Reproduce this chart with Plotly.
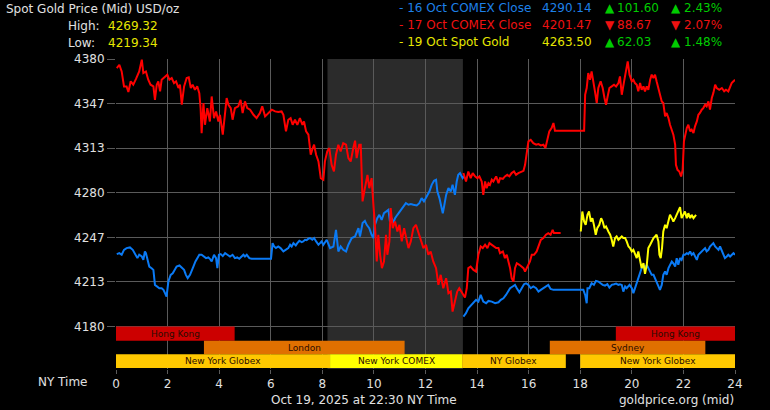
import plotly.graph_objects as go

# ---------------- data ----------------
red1_h = [0.03,0.13,0.22,0.31,0.41,0.48,0.57,0.67,0.78,0.90,1.00,1.06,1.16,1.25,1.34,1.45,1.51,1.58,1.64,1.71,1.77,1.90,1.99,2.07,2.16,2.25,2.33,2.42,2.48,2.55,2.64,2.74,2.82,2.90,2.97,3.06,3.15,3.23,3.28,3.32,3.39,3.45,3.54,3.64,3.71,3.80,3.88,3.97,4.03,4.14,4.23,4.29,4.36,4.45,4.52,4.61,4.74,4.83,4.91,5.00,5.09,5.20,5.33,5.45,5.58,5.67,5.78,5.91,6.04,6.17,6.29,6.42,6.49,6.59,6.68,6.77,6.85,6.94,7.03,7.13,7.23,7.29,7.37,7.46,7.55,7.63,7.68,7.76,7.85,7.94,8.04,
          8.10,8.19,8.27,8.36,8.45,8.53,8.62,8.71,8.81,8.92,9.01,9.10,9.20,9.27,9.33,9.43,9.49,9.56,9.65,9.75,9.82,9.91,9.98,10.04,10.11,10.17,10.24,10.31,10.39,10.47,10.52,10.60,10.65,10.73,10.82,10.91,10.99,11.08,11.17,11.24,11.34,11.43,11.53,11.63,11.72,11.81,11.92,12.02,12.11,12.20,12.30,12.41,12.50,12.59,12.69,12.80,12.89,12.98,13.05,13.14,13.23,13.31,
          13.47,13.53,13.60,13.66,13.75,13.86,13.96,14.05,14.14,14.22,14.31,14.40,14.48,14.57,14.63,14.74,14.83,14.89,15.00,15.08,15.15,15.21,15.28,15.34,15.41,15.47,15.54,15.64,15.73,15.80,15.86,15.92,15.99,16.05,16.12,16.21,16.31,16.42,16.47,16.57,16.67,16.76,16.85,16.93,16.98,17.06,17.24]
red1_v = [4373.2,4375.7,4370.7,4359.5,4359.5,4355.3,4363.3,4360.8,4365.3,4370.7,4379.5,4369.5,4370.7,4364.5,4360.8,4359.5,4349.5,4360.8,4363.3,4355.8,4364.5,4367.0,4368.3,4364.5,4365.8,4362.0,4363.3,4358.3,4360.8,4345.8,4359.5,4365.8,4366.3,4358.3,4360.8,4357.0,4359.5,4354.5,4343.3,4324.6,4347.1,4330.8,4343.3,4333.3,4352.0,4335.8,4340.8,4333.3,4338.3,4323.4,4343.3,4350.8,4345.8,4343.3,4334.6,4343.3,4344.6,4349.5,4339.6,4348.3,4343.3,4342.1,4338.3,4335.8,4339.6,4344.6,4337.1,4339.6,4342.1,4340.8,4340.3,4340.8,4338.3,4325.9,4334.6,4335.8,4330.8,4334.6,4330.8,4335.8,4330.8,4333.3,4325.9,4323.4,4308.4,4313.4,4315.9,4308.4,4303.4,4290.9,4289.7,
          4303.4,4310.9,4313.4,4300.9,4295.9,4308.4,4315.9,4310.9,4317.1,4315.9,4305.9,4303.4,4313.4,4318.9,4305.9,4315.9,4315.9,4273.5,4283.4,4293.4,4283.4,4290.9,4271.0,4256.0,4228.6,4248.6,4233.6,4223.6,4228.6,4248.6,4233.6,4243.6,4268.5,4253.5,4258.5,4251.0,4256.0,4243.6,4253.5,4247.3,4238.6,4243.6,4253.5,4256.0,4251.0,4246.1,4238.6,4241.1,4233.6,4236.1,4228.6,4223.6,4211.1,4218.6,4208.6,4216.1,4204.9,4206.1,4191.1,4198.6,4206.1,4208.6,
          4203.6,4201.6,4208.6,4223.6,4224.8,4222.3,4221.1,4233.6,4239.8,4238.6,4241.1,4238.6,4242.3,4241.1,4239.8,4238.6,4238.6,4234.8,4236.1,4231.1,4233.6,4228.6,4223.6,4216.1,4213.6,4223.6,4227.3,4226.1,4224.8,4223.6,4221.1,4223.6,4226.1,4228.6,4233.6,4233.6,4236.1,4241.1,4244.8,4246.1,4248.6,4249.8,4248.6,4252.3,4249.8,4249.8,4249.8]

red2_h = [13.47,13.49,13.57,13.66,13.75,13.83,13.92,14.01,14.09,14.18,14.24,14.31,14.37,14.44,14.50,14.57,14.63,14.74,14.83,14.89,15.00,15.08,15.17,15.25,15.34,15.43,15.51,15.60,15.69,15.80,15.86,15.92,15.99,16.08,16.18,16.29,16.38,16.47,16.57,16.65,16.73,16.80,16.89,16.96,17.02,18.15,
          18.19,18.25,18.31,18.38,18.44,18.51,18.57,18.64,18.70,18.79,18.87,18.94,19.00,19.05,19.13,19.22,19.31,19.39,19.48,19.54,19.61,19.70,19.78,19.84,19.91,20.00,20.06,20.12,20.19,20.25,20.32,20.38,20.45,20.51,20.58,20.64,20.71,20.77,20.84,20.90,20.96,21.03,21.09,21.16,21.22,21.29,21.35,21.42,21.48,21.55,21.61,21.68,21.71,21.77,21.84,21.91,21.97,22.02,22.08,22.13,22.19,22.26,22.32,22.39,22.45,22.52,22.58,22.64,22.71,22.77,22.84,22.90,22.97,23.03,23.10,23.16,23.23,23.29,23.39,23.49,23.58,23.65,23.74,23.81,23.87,23.94,24.00]
red2_v = [4294.7,4293.4,4288.4,4295.9,4290.9,4294.7,4292.2,4290.9,4292.2,4288.4,4278.4,4288.4,4283.4,4287.2,4285.9,4289.7,4288.4,4292.2,4287.2,4290.9,4290.4,4292.2,4293.4,4292.2,4294.7,4295.9,4293.4,4294.7,4295.4,4296.4,4300.9,4310.9,4318.4,4319.6,4317.1,4315.9,4316.4,4315.4,4315.9,4313.4,4319.6,4325.9,4328.4,4332.1,4326.4,4326.4,
          4353.3,4358.3,4369.5,4364.5,4370.7,4360.8,4355.8,4347.1,4358.3,4363.3,4358.3,4350.8,4345.8,4350.8,4358.3,4359.5,4360.8,4359.5,4362.0,4367.0,4353.3,4363.3,4372.0,4378.2,4368.3,4363.3,4364.5,4362.0,4360.8,4355.8,4362.0,4357.0,4359.5,4355.8,4359.5,4357.0,4364.5,4368.3,4365.8,4368.3,4363.3,4358.3,4353.3,4348.3,4347.1,4337.1,4339.6,4335.8,4330.8,4325.9,4323.4,4315.9,4300.9,4297.1,4295.9,4292.2,4297.1,4318.4,4323.4,4328.4,4330.8,4325.9,4327.1,4324.6,4329.6,4333.3,4338.3,4339.6,4342.1,4343.3,4345.8,4344.6,4348.3,4342.1,4350.8,4354.5,4360.8,4358.3,4357.0,4358.3,4355.8,4357.0,4355.8,4359.5,4362.0,4363.3,4364.5]

blue1_h = [0.03,0.13,0.22,0.31,0.41,0.54,0.65,0.74,0.83,0.90,1.00,1.06,1.12,1.16,1.23,1.29,1.38,1.45,1.51,1.58,1.68,1.77,1.84,1.90,1.96,2.03,2.12,2.20,2.29,2.35,2.46,2.55,2.64,2.71,2.78,2.87,2.93,3.00,3.08,3.15,3.23,3.32,3.39,3.49,3.58,3.64,3.71,3.80,3.88,3.93,3.99,4.06,4.14,4.23,4.32,4.42,4.52,4.61,4.70,4.78,4.87,4.94,5.00,5.07,5.17,5.26,6.01,6.07,6.13,6.20,6.29,6.38,6.49,6.59,6.68,6.75,6.81,6.88,6.97,7.03,7.11,7.20,7.26,7.33,7.39,7.46,7.52,7.61,7.68,7.76,7.85,7.91,7.97,
           8.04,8.17,8.30,8.43,8.53,8.62,8.71,8.81,8.92,9.01,9.14,9.27,9.40,9.46,9.56,9.65,9.72,9.82,9.91,9.98,10.04,10.13,10.21,10.30,10.39,10.50,10.56,10.62,10.69,10.75,10.82,10.91,11.01,11.14,11.24,11.34,11.43,11.53,11.66,11.76,11.85,11.94,12.05,12.15,12.24,12.33,12.41,12.46,12.54,12.61,12.67,12.72,12.80,12.89,12.98,13.05,13.14,13.21,13.27,13.34,13.44,13.49]
blue1_v = [4234.1,4234.8,4233.6,4237.3,4238.6,4239.1,4237.3,4233.6,4231.1,4233.6,4232.3,4229.8,4236.1,4234.8,4228.6,4224.8,4223.6,4222.3,4211.1,4209.9,4208.6,4208.6,4207.4,4204.9,4202.3,4213.6,4218.6,4219.8,4223.6,4224.8,4225.6,4223.6,4222.3,4218.6,4216.1,4218.6,4222.3,4224.8,4228.6,4231.1,4233.6,4233.6,4232.3,4231.1,4231.6,4230.6,4228.6,4233.6,4231.1,4223.6,4233.6,4234.1,4232.6,4234.8,4233.6,4232.3,4233.6,4231.1,4231.6,4230.6,4232.3,4233.6,4232.3,4233.6,4231.1,4230.6,4230.6,4242.3,4239.8,4238.6,4239.8,4238.6,4236.1,4237.3,4238.6,4241.1,4239.8,4242.3,4240.6,4242.3,4244.1,4243.1,4243.6,4244.8,4244.6,4245.6,4246.1,4244.8,4246.1,4243.6,4241.1,4242.3,4243.6,
           4241.1,4244.8,4238.6,4239.8,4252.3,4236.1,4239.8,4237.3,4236.1,4241.1,4246.1,4247.3,4253.5,4247.3,4257.3,4258.9,4256.0,4253.5,4248.6,4246.1,4256.0,4261.0,4263.5,4259.7,4264.7,4266.0,4267.2,4258.5,4261.0,4257.3,4261.0,4263.5,4266.0,4269.7,4272.2,4271.0,4271.5,4271.0,4270.5,4272.2,4276.0,4273.5,4277.2,4280.9,4285.9,4288.9,4289.7,4280.9,4276.0,4269.7,4264.7,4269.7,4278.4,4283.4,4280.9,4285.9,4278.4,4288.4,4293.4,4294.7,4290.9,4292.2]

blue2_h = [13.47,13.57,13.66,13.75,13.86,13.96,14.05,14.14,14.24,14.35,14.44,14.57,14.70,14.83,14.92,15.02,15.12,15.21,15.28,15.38,15.47,15.54,15.64,15.73,15.82,15.90,15.99,16.08,16.18,16.29,16.38,16.47,16.57,16.67,16.76,16.85,16.96,18.12,18.19,18.25,18.28,18.35,18.44,18.53,18.61,18.70,18.79,18.87,18.96,19.05,19.13,19.22,19.31,19.39,19.48,19.54,19.61,19.67,19.74,19.80,19.91,20.00,20.06,20.12,20.19,20.25,20.32,20.38,20.45,20.51,20.58,20.64,20.71,20.77,20.84,20.90,20.96,21.03,21.09,21.16,21.22,21.29,21.35,21.42,21.48,21.55,21.61,21.68,21.74,21.80,21.87,21.93,22.00,22.06,22.13,22.19,22.26,22.32,22.39,22.45,22.52,22.58,22.64,22.71,22.77,22.84,22.90,22.97,23.03,23.10,23.16,23.23,23.29,23.36,23.42,23.49,23.55,23.61,23.68,23.74,23.81,23.87,23.94,24.00]
blue2_v = [4187.4,4189.9,4193.6,4195.6,4197.4,4199.9,4198.6,4203.6,4198.6,4197.4,4199.1,4198.6,4197.4,4198.1,4199.9,4201.1,4203.6,4206.1,4208.6,4209.9,4211.1,4208.6,4205.6,4208.6,4211.6,4212.3,4211.1,4208.6,4209.9,4208.6,4206.1,4207.4,4208.6,4209.9,4211.1,4208.1,4207.4,4207.4,4203.6,4197.4,4208.6,4208.6,4212.3,4211.1,4214.1,4213.6,4212.3,4211.1,4210.6,4211.6,4209.1,4211.1,4211.6,4212.1,4211.1,4211.6,4211.1,4206.1,4209.9,4208.6,4211.1,4208.6,4204.9,4208.6,4213.6,4217.3,4221.1,4223.6,4226.1,4223.6,4226.1,4223.6,4221.1,4218.6,4218.6,4216.1,4213.6,4211.1,4207.4,4211.1,4218.6,4221.1,4218.6,4223.6,4226.1,4228.6,4227.3,4224.8,4231.1,4226.1,4231.1,4229.8,4233.6,4233.6,4234.8,4234.1,4236.1,4233.6,4234.8,4232.3,4229.8,4233.6,4234.8,4236.1,4237.3,4238.6,4236.1,4237.3,4239.8,4241.1,4242.3,4239.8,4238.6,4237.3,4239.8,4236.1,4233.6,4231.1,4232.3,4233.6,4232.3,4233.6,4234.8,4233.6]

yel_h = [18.02,18.08,18.15,18.21,18.28,18.34,18.41,18.47,18.53,18.60,18.66,18.74,18.81,18.87,18.94,19.00,19.09,19.16,19.22,19.28,19.35,19.41,19.48,19.54,19.61,19.67,19.74,19.80,19.87,19.93,20.00,20.06,20.12,20.19,20.25,20.32,20.38,20.45,20.51,20.58,20.64,20.71,20.77,20.84,20.90,20.96,21.03,21.07,21.12,21.17,21.22,21.29,21.35,21.42,21.48,21.55,21.61,21.68,21.74,21.80,21.87,21.93,22.00,22.06,22.13,22.19,22.26,22.32,22.39,22.45,22.49]
yel_v = [4251.0,4266.0,4258.5,4256.0,4263.5,4266.0,4258.5,4261.0,4256.0,4248.6,4253.5,4256.0,4261.0,4258.5,4253.5,4254.8,4251.0,4248.6,4244.8,4239.8,4246.1,4247.3,4244.8,4246.1,4247.3,4246.1,4246.1,4243.6,4239.8,4238.6,4236.1,4237.3,4233.6,4231.1,4236.1,4228.6,4223.6,4227.3,4219.3,4226.1,4238.6,4241.1,4243.6,4246.1,4247.3,4248.6,4243.6,4233.6,4231.1,4238.6,4251.0,4256.0,4253.5,4258.5,4263.5,4261.0,4258.5,4261.0,4263.5,4266.0,4269.3,4261.0,4263.5,4266.0,4261.0,4264.7,4261.0,4263.5,4261.0,4262.2,4263.5]

y_ticks = [4180, 4213.33, 4246.67, 4280, 4313.33, 4346.67, 4380]
y_labels = ["4180", "4213", "4247", "4280", "4313", "4347", "4380"]
x_ticks = list(range(0, 25, 2))

# trading sessions: (name, start hour, end hour, row, colour)
sessions = [
    ("Hong Kong", 0.0, 4.6, 0, "#cc0000"),
    ("Hong Kong", 19.38, 24.0, 0, "#cc0000"),
    ("London", 3.41, 11.19, 1, "#e07000"),
    ("Sydney", 16.82, 22.85, 1, "#e07000"),
    ("New York Globex", 0.0, 8.3, 2, "#ffc800"),
    ("New York COMEX", 8.3, 13.42, 2, "#ffff00"),
    ("NY Globex", 13.42, 17.44, 2, "#ffc800"),
    ("New York Globex", 18.0, 24.0, 2, "#ffc800"),
]
comex_shade = (8.2, 13.45)

legend_rows = [
    ("- 16 Oct COMEX Close", "4290.14", "▲", "101.60", "▲", "2.43%", "#1e80e8", "#00cc00"),
    ("- 17 Oct COMEX Close", "4201.47", "▼", "88.67", "▼", "2.07%", "#ee1111", "#ee1111"),
    ("- 19 Oct Spot Gold", "4263.50", "▲", "62.03", "▲", "1.48%", "#e6e600", "#00cc00"),
]

# ---------------- figure ----------------
FONT = "DejaVu Sans, Verdana, sans-serif"
TXT = "#e0e0e0"
GRID = "#5a5a5a"

fig = go.Figure()
lw = 2
fig.add_trace(go.Scatter(x=blue1_h, y=blue1_v, mode="lines", line=dict(color="#0a7af5", width=lw)))
fig.add_trace(go.Scatter(x=blue2_h, y=blue2_v, mode="lines", line=dict(color="#0a7af5", width=lw)))
fig.add_trace(go.Scatter(x=red1_h, y=red1_v, mode="lines", line=dict(color="#ff0000", width=lw)))
fig.add_trace(go.Scatter(x=red2_h, y=red2_v, mode="lines", line=dict(color="#ff0000", width=lw)))
fig.add_trace(go.Scatter(x=yel_h, y=yel_v, mode="lines", line=dict(color="#ffff00", width=lw)))

Y_TOP = 4380
Y_BOT = 4148.2
row_edges = [4180, 4169.3, 4159.2, 4149.0]

# shaded COMEX period
fig.add_shape(type="rect", xref="x", yref="y", x0=comex_shade[0], x1=comex_shade[1],
              y0=Y_BOT, y1=Y_TOP, fillcolor="#2b2b2b", line=dict(width=0), layer="below")

for name, h0, h1, row, col in sessions:
    fig.add_shape(type="rect", xref="x", yref="y", x0=h0, x1=h1,
                  y0=row_edges[row + 1], y1=row_edges[row], fillcolor=col,
                  line=dict(width=0), layer="above")
    fig.add_annotation(x=(h0 + h1) / 2, y=(row_edges[row] + row_edges[row + 1]) / 2,
                       xref="x", yref="y", text=name, showarrow=False,
                       font=dict(family=FONT, size=9, color="#2a0c00"))

W, H = 770, 410
ML, MR, MT, MB = 116, 35, 59, 41
PW, PH = W - ML - MR, H - MT - MB


def px(xp):
    return (xp - ML) / PW


def py(yp):
    return (H - MB - yp) / PH


def text(x, y, s, color, xanchor="left", size=12):
    fig.add_annotation(x=px(x), y=py(y), xref="paper", yref="paper", text=s,
                       showarrow=False, xanchor=xanchor, yanchor="middle",
                       font=dict(family=FONT, size=size, color=color))


text(4, 9, "Spot Gold Price (Mid) USD/oz", TXT)
text(66, 26, "High:", TXT)
text(106, 26, "4269.32", "#e6e600")
text(66, 43, "Low:", TXT)
text(106, 43, "4219.34", "#e6e600")

for i, (lab, val, t1, chg, t2, pct, col, ccol) in enumerate(legend_rows):
    yy = 8 + i * 17
    text(397, yy, lab, col)
    text(594, yy, val, col, xanchor="right")
    text(603, yy, t1, ccol)
    text(615, yy, chg, ccol)
    text(669, yy, t2, ccol)
    text(682, yy, pct, ccol)

text(90, 382, "NY Time", TXT, xanchor="right")
text(364, 400, "Oct 19, 2025 at 22:30 NY Time", TXT, xanchor="center")
text(736, 400, "goldprice.org (mid)", TXT, xanchor="right")

fig.update_layout(
    width=W, height=H,
    margin=dict(l=ML, r=MR, t=MT, b=MB, pad=0),
    paper_bgcolor="#000000", plot_bgcolor="#000000",
    showlegend=False,
    font=dict(family=FONT, size=12, color=TXT),
    xaxis=dict(range=[0, 24], tickvals=x_ticks, ticktext=[str(v) for v in x_ticks],
               showgrid=True, gridcolor=GRID, gridwidth=1, zeroline=False,
               showline=False, ticks="outside", ticklen=4, tickcolor=GRID,
               tickfont=dict(family=FONT, size=12, color=TXT), fixedrange=True),
    yaxis=dict(range=[Y_BOT, Y_TOP], tickvals=y_ticks, ticktext=y_labels,
               showgrid=True, gridcolor=GRID, gridwidth=1, zeroline=False,
               showline=False, ticks="outside", ticklen=8, tickcolor=GRID,
               tickfont=dict(family=FONT, size=12, color=TXT), fixedrange=True),
)

# remove the default page margin so the figure sits at the window's top-left corner
fig.write_html("out.html", config={"displayModeBar": False},
               post_script="document.body.style.margin='0px';document.body.style.background='#000';")
